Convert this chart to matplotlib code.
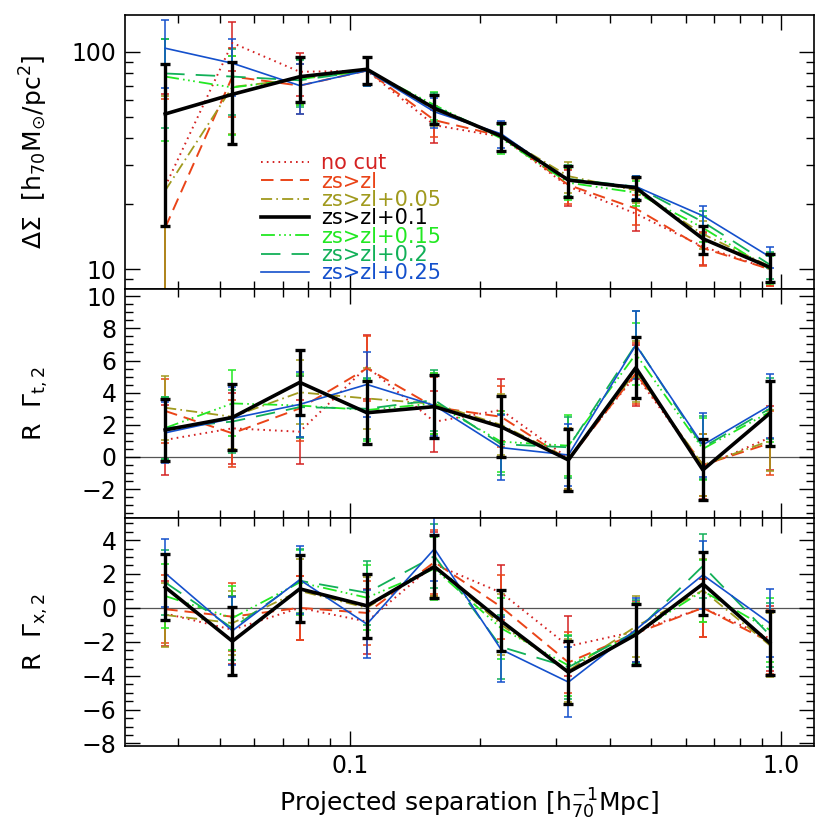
import matplotlib
matplotlib.use("Agg")
import matplotlib.pyplot as plt
from matplotlib.ticker import FixedLocator, MultipleLocator, NullFormatter, FuncFormatter

plt.rcParams['font.family'] = ['DejaVu Sans']
plt.rcParams['lines.scale_dashes'] = False
plt.rcParams['axes.unicode_minus'] = True

# projected separation bins
rsep = [0.0373, 0.0534, 0.0765, 0.1095, 0.157, 0.224, 0.321, 0.46, 0.658, 0.94]

labels = ['no cut', 'zs>zl', 'zs>zl+0.05', 'zs>zl+0.1', 'zs>zl+0.15', 'zs>zl+0.2', 'zs>zl+0.25']

# Delta Sigma (top panel)
ds_nocut = [24, 110, 81, 82, 46, 40.7, 24, 18, 12.7, 10.0]
ds_zl    = [15.5, 77, 70, 82, 48.5, 41, 24.4, 19, 12.5, 10.0]
ds_005   = [23, 69, 75, 82, 54, 41, 26.8, 23, 14.5, 10.3]
ds_010   = [51.8, 63.8, 76.9, 83.2, 55, 41, 25.7, 23.7, 13.8, 10.2]
ds_015   = [77, 68.6, 75, 82, 57, 40, 25, 22.5, 15.5, 10.0]
ds_020   = [79.6, 77, 74, 82, 56, 41, 26, 24, 16.5, 10.5]
ds_025   = [104, 88.7, 70, 82, 53, 42, 25.5, 24, 17.6, 11.4]

ds_err_nocut = [40, 28, 18, 12, 8, 6, 4.5, 3.0, 2.2, 1.6]
ds_err_zl    = [45, 27, 18, 12, 8, 6, 4.5, 3.0, 2.2, 1.6]
ds_err_005   = [40, 27, 18, 12, 8.5, 6, 4.3, 2.9, 2.1, 1.6]
ds_err_010   = [36, 26, 18, 12, 8.5, 6, 4.2, 2.8, 2.0, 1.5]
ds_err_015   = [38, 27, 18, 12, 8.5, 6, 4.3, 2.9, 2.1, 1.5]
ds_err_020   = [35, 26, 18, 12, 8.5, 6, 4.3, 2.9, 2.1, 1.5]
ds_err_025   = [36, 26, 18, 12, 8.5, 6, 4.3, 2.9, 1.9, 1.3]

# R Gamma_t,2 (middle panel)
gt_nocut = [1.06, 1.78, 1.57, 5.61, 2.19, 2.92, -0.08, 5.09, -0.6, 1.2]
gt_zl    = [2.86, 1.47, 3.02, 5.51, 3.1, 2.5, -0.2, 5.2, -0.5, 0.85]
gt_005   = [3.06, 2.5, 4.02, 3.64, 3.3, 2.0, -0.1, 5.3, -0.5, 1.0]
gt_010   = [1.68, 2.46, 4.64, 2.75, 3.13, 1.88, -0.19, 5.55, -0.81, 2.71]
gt_015   = [1.8, 3.33, 3.2, 2.92, 3.33, 0.95, 0.7, 6.4, 0.5, 2.8]
gt_020   = [1.8, 2.2, 3.1, 3.0, 3.54, 0.79, 0.6, 7.0, 0.6, 3.0]
gt_025   = [1.5, 2.4, 3.27, 4.51, 3.2, 0.58, 0.12, 6.96, 0.75, 3.19]

gt_err_nocut = [2.2, 2.2, 2.0, 2.0, 1.9, 1.9, 1.9, 1.9, 2.0, 2.0]
gt_err_zl    = [2.0, 2.1, 2.0, 2.0, 1.9, 1.9, 1.9, 1.9, 1.9, 2.0]
gt_err_005   = [2.0, 2.0, 2.0, 1.9, 1.9, 1.9, 1.9, 1.9, 1.9, 1.9]
gt_err_010   = [1.95, 2.05, 2.03, 1.97, 1.97, 1.9, 1.95, 1.9, 1.9, 2.0]
gt_err_015   = [1.9, 2.05, 1.95, 1.9, 1.9, 1.9, 1.9, 1.95, 1.95, 1.9]
gt_err_020   = [1.9, 1.95, 1.95, 1.9, 1.9, 1.9, 1.9, 2.1, 1.95, 1.9]
gt_err_025   = [1.9, 1.95, 2.0, 2.0, 1.9, 2.0, 1.9, 2.1, 2.0, 2.0]

# R Gamma_x,2 (bottom panel)
gx_nocut = [-0.33, -1.29, 0.0, -0.81, 2.57, 0.9, -2.26, -1.39, 0.0, -1.8]
gx_zl    = [-0.08, -0.52, 0.0, -0.3, 2.7, 0.06, -3.22, -1.5, 0.0, -2.0]
gx_005   = [-0.42, -0.9, 1.0, 0.0, 2.5, -1.0, -3.7, -1.1, 1.03, -2.2]
gx_010   = [1.22, -1.97, 1.12, 0.12, 2.43, -0.77, -3.8, -1.58, 1.41, -2.07]
gx_015   = [0.7, -0.6, 1.5, 0.6, 2.3, -1.2, -3.4, -1.5, 1.0, -1.3]
gx_020   = [1.5, -1.2, 1.6, 0.89, 3.05, -2.3, -3.5, -1.4, 2.47, -1.6]
gx_025   = [2.05, -1.35, 1.66, -0.96, 3.48, -2.45, -4.38, -1.29, 1.94, -0.9]

gx_err_nocut = [1.9, 2.0, 1.9, 1.9, 1.9, 1.6, 1.75, 1.8, 1.7, 1.9]
gx_err_zl    = [2.0, 2.0, 1.9, 1.9, 1.9, 1.9, 1.8, 1.8, 1.7, 1.9]
gx_err_005   = [1.9, 1.9, 1.9, 1.8, 1.8, 1.8, 1.85, 1.8, 1.85, 1.9]
gx_err_010   = [1.95, 2.0, 1.97, 1.9, 1.85, 1.8, 1.85, 1.8, 1.86, 1.9]
gx_err_015   = [1.9, 1.9, 1.9, 1.9, 1.85, 1.8, 1.8, 1.8, 1.85, 1.9]
gx_err_020   = [1.9, 1.9, 1.9, 1.9, 1.9, 1.9, 1.85, 1.85, 1.9, 1.9]
gx_err_025   = [2.0, 2.0, 2.0, 2.0, 1.9, 1.9, 2.05, 1.9, 2.0, 2.0]

colors = ['#d42222', '#ea4418', '#a09a1e', '#000000', '#22e822', '#12b058', '#1450cc']
dashes = [(1.2, 3), (9, 5), (8, 3, 1.2, 3), None, (10, 3, 1.2, 2.5, 1.2, 2.5, 1.2, 3), (14, 8), None]
widths = [1.4, 1.4, 1.3, 2.6, 1.3, 1.3, 1.2]

panels = [
    ([ds_nocut, ds_zl, ds_005, ds_010, ds_015, ds_020, ds_025],
     [ds_err_nocut, ds_err_zl, ds_err_005, ds_err_010, ds_err_015, ds_err_020, ds_err_025]),
    ([gt_nocut, gt_zl, gt_005, gt_010, gt_015, gt_020, gt_025],
     [gt_err_nocut, gt_err_zl, gt_err_005, gt_err_010, gt_err_015, gt_err_020, gt_err_025]),
    ([gx_nocut, gx_zl, gx_005, gx_010, gx_015, gx_020, gx_025],
     [gx_err_nocut, gx_err_zl, gx_err_005, gx_err_010, gx_err_015, gx_err_020, gx_err_025]),
]

fig = plt.figure(figsize=(8.3, 8.3), dpi=100)
left, width = 0.1506, 0.830
ax_top = fig.add_axes([left, 0.6518, width, 0.3302])
ax_mid = fig.add_axes([left, 0.3759, width, 0.2759], sharex=ax_top)
ax_bot = fig.add_axes([left, 0.1012, width, 0.2747], sharex=ax_top)
axes = [ax_top, ax_mid, ax_bot]

order = [0, 1, 2, 4, 5, 6, 3]  # black drawn last
handles = {}
for ax, (vals, errs) in zip(axes, panels):
    for i in order:
        black = (i == 3)
        ax.errorbar(rsep, vals[i], yerr=errs[i], fmt='none', ecolor=colors[i],
                    elinewidth=2.4 if black else 1.1,
                    capsize=3.8 if black else 3.0,
                    capthick=2.4 if black else 1.1,
                    zorder=5 if black else 2)
        line, = ax.plot(rsep, vals[i], color=colors[i], lw=widths[i],
                        label=labels[i], zorder=6 if black else 3)
        if dashes[i] is not None:
            line.set_dashes(dashes[i])
        if ax is ax_top:
            handles[i] = line

ax_top.set_xscale('log')
ax_top.set_xlim(0.0301, 1.19)
ax_top.set_yscale('log')
ax_top.set_ylim(8.1, 148)
ax_mid.set_ylim(-3.8, 10.45)
ax_bot.set_ylim(-8.15, 5.3)

for ax in (ax_mid, ax_bot):
    ax.axhline(0, color='#555555', lw=0.9, zorder=1)
    ax.yaxis.set_major_locator(MultipleLocator(2))
    ax.yaxis.set_minor_locator(MultipleLocator(0.5))

ax_top.yaxis.set_major_locator(FixedLocator([10, 100]))
ax_top.yaxis.set_major_formatter(FuncFormatter(lambda v, p: '%d' % v))
ax_top.yaxis.set_minor_formatter(NullFormatter())

ax_bot.xaxis.set_major_locator(FixedLocator([0.1, 1.0]))
ax_bot.xaxis.set_major_formatter(FuncFormatter(lambda v, p: '%.1f' % v))
ax_bot.xaxis.set_minor_formatter(NullFormatter())

for ax in axes:
    ax.tick_params(which='both', direction='in', top=True, right=True, labelsize=17,
                   width=1.0, pad=6)
    ax.tick_params(which='major', length=11)
    ax.tick_params(which='minor', length=6)
    for s in ax.spines.values():
        s.set_linewidth(1.2)
for ax in (ax_top, ax_mid):
    ax.tick_params(labelbottom=False)

ax_top.set_ylabel(r'$\Delta\Sigma$  [h$_{70}$M$_{\odot}$/pc$^2$]', fontsize=18)
ax_mid.set_ylabel(r'R  $\Gamma_{\mathrm{t,2}}$', fontsize=18)
ax_bot.set_ylabel(r'R  $\Gamma_{\mathrm{x,2}}$', fontsize=18)
for ax in axes:
    ax.yaxis.set_label_coords(-0.109, 0.5)
ax_bot.set_xlabel(r'Projected separation [h$^{-1}_{70}$Mpc]', fontsize=18, labelpad=6)

leg = ax_top.legend([handles[i] for i in range(7)], labels,
                    loc='upper left', bbox_to_anchor=(0.185, 0.525), frameon=False,
                    fontsize=15, handlelength=2.3, handletextpad=0.6,
                    labelspacing=-0.08, borderaxespad=0, labelcolor='linecolor')

fig.savefig('out.png', dpi=100)
